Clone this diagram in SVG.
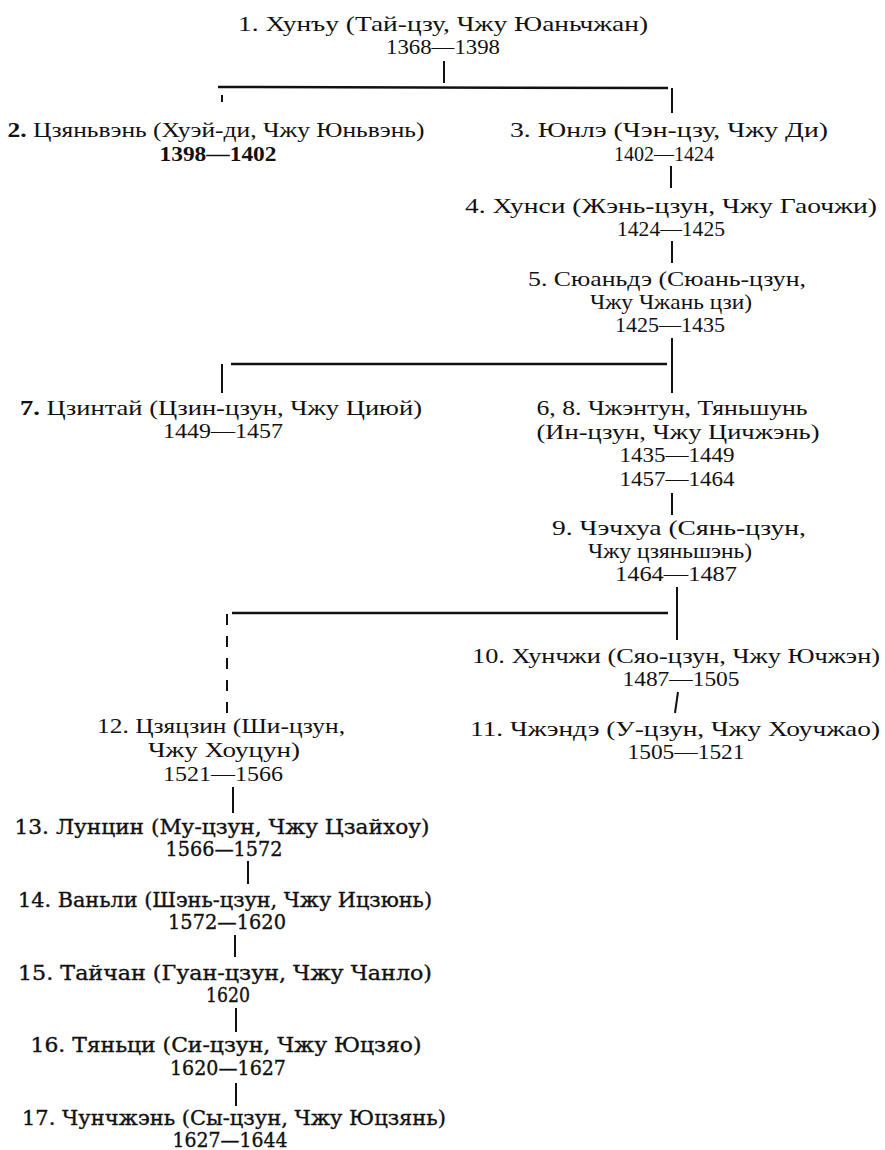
<svg xmlns="http://www.w3.org/2000/svg" width="885" height="1150" viewBox="0 0 885 1150">
  <style>
    text { fill: #111; text-anchor: middle; }
    .t { font-family: "Liberation Serif", "Times New Roman", serif; font-size: 22px; }
    .bd { font-weight: bold; }
    .w { font-family: "DejaVu Serif", "Liberation Serif", serif; font-size: 19.5px; stroke: #111; stroke-width: 0.35; }
    .ln { stroke: #111; stroke-width: 2; fill: none; }
    .hl { stroke: #111; stroke-width: 2.5; fill: none; }
    .dash { stroke: #111; stroke-width: 2; fill: none; stroke-dasharray: 11 11; }
  </style>
  <rect width="885" height="1150" fill="#fff"/>

  <!-- connectors -->
  <g id="connectors">
    <line class="ln" x1="444" y1="61" x2="444" y2="83"/>
    <line class="hl" x1="218" y1="87" x2="668" y2="88"/>
    <line class="ln" x1="222" y1="95" x2="222" y2="102" stroke-width="1"/>
    <line class="ln" x1="672" y1="88" x2="672" y2="113"/>
    <line class="ln" x1="671" y1="166" x2="671" y2="188"/>
    <line class="ln" x1="672" y1="241" x2="672" y2="263"/>
    <line class="ln" x1="672" y1="338" x2="672" y2="393"/>
    <line class="hl" x1="231" y1="364" x2="667" y2="364"/>
    <line class="ln" x1="222" y1="364" x2="222" y2="393"/>
    <line class="ln" x1="672" y1="493" x2="672" y2="515"/>
    <line class="ln" x1="677" y1="587" x2="677" y2="640"/>
    <line class="hl" x1="232" y1="613" x2="668" y2="613"/>
    <line class="dash" x1="227" y1="614" x2="227" y2="718"/>
    <line class="ln" x1="678" y1="692" x2="675" y2="713"/>
    <line class="ln" x1="233" y1="787" x2="233" y2="813" stroke-width="4"/>
    <line class="ln" x1="248" y1="861" x2="248" y2="884"/>
    <line class="ln" x1="235" y1="935" x2="235" y2="957"/>
    <line class="ln" x1="236" y1="1008" x2="236" y2="1032"/>
    <line class="ln" x1="236" y1="1083" x2="236" y2="1106"/>
  </g>

  <g id="n1">
    <text class="t" x="443" y="31" textLength="410" lengthAdjust="spacingAndGlyphs">1. Хунъу (Тай-цзу, Чжу Юаньчжан)</text>
    <text class="t" x="443" y="54" textLength="114" lengthAdjust="spacingAndGlyphs">1368—1398</text>
  </g>
  <g id="n2">
    <text class="t" x="216" y="137" textLength="417" lengthAdjust="spacingAndGlyphs"><tspan class="bd">2.</tspan> Цзяньвэнь (Хуэй-ди, Чжу Юньвэнь)</text>
    <text class="t bd" x="218" y="161" textLength="117" lengthAdjust="spacingAndGlyphs">1398—1402</text>
  </g>
  <g id="n3">
    <text class="t" x="669" y="137" textLength="318" lengthAdjust="spacingAndGlyphs">3. Юнлэ (Чэн-цзу, Чжу Ди)</text>
    <text class="t" x="664" y="161" textLength="100" lengthAdjust="spacingAndGlyphs">1402—1424</text>
  </g>
  <g id="n4">
    <text class="t" x="671" y="213" textLength="412" lengthAdjust="spacingAndGlyphs">4. Хунси (Жэнь-цзун, Чжу Гаочжи)</text>
    <text class="t" x="671" y="236" textLength="108" lengthAdjust="spacingAndGlyphs">1424—1425</text>
  </g>
  <g id="n5">
    <text class="t" x="667" y="286" textLength="278" lengthAdjust="spacingAndGlyphs">5. Сюаньдэ (Сюань-цзун,</text>
    <text class="t" x="671" y="309" textLength="162" lengthAdjust="spacingAndGlyphs">Чжу Чжань цзи)</text>
    <text class="t" x="670" y="332" textLength="110" lengthAdjust="spacingAndGlyphs">1425—1435</text>
  </g>
  <g id="n7">
    <text class="t" x="221" y="415" textLength="402" lengthAdjust="spacingAndGlyphs"><tspan class="bd">7.</tspan> Цзинтай (Цзин-цзун, Чжу Циюй)</text>
    <text class="t" x="223" y="438" textLength="120" lengthAdjust="spacingAndGlyphs">1449—1457</text>
  </g>
  <g id="n6-8">
    <text class="t" x="672" y="415" textLength="271" lengthAdjust="spacingAndGlyphs">6, 8. Чжэнтун, Тяньшунь</text>
    <text class="t" x="678" y="439" textLength="283" lengthAdjust="spacingAndGlyphs">(Ин-цзун, Чжу Цичжэнь)</text>
    <text class="t" x="677" y="462" textLength="115" lengthAdjust="spacingAndGlyphs">1435—1449</text>
    <text class="t" x="677" y="486" textLength="115" lengthAdjust="spacingAndGlyphs">1457—1464</text>
  </g>
  <g id="n9">
    <text class="t" x="679" y="535" textLength="254" lengthAdjust="spacingAndGlyphs">9. Чэчхуа (Сянь-цзун,</text>
    <text class="t" x="670" y="558" textLength="164" lengthAdjust="spacingAndGlyphs">Чжу цзяньшэнь)</text>
    <text class="t" x="676" y="581" textLength="122" lengthAdjust="spacingAndGlyphs">1464—1487</text>
  </g>
  <g id="n10">
    <text class="t" x="676" y="663" textLength="408" lengthAdjust="spacingAndGlyphs">10. Хунчжи (Сяо-цзун, Чжу Ючжэн)</text>
    <text class="t" x="681" y="686" textLength="117" lengthAdjust="spacingAndGlyphs">1487—1505</text>
  </g>
  <g id="n11">
    <text class="t" x="675" y="736" textLength="410" lengthAdjust="spacingAndGlyphs">11. Чжэндэ (У-цзун, Чжу Хоучжао)</text>
    <text class="t" x="686" y="759" textLength="117" lengthAdjust="spacingAndGlyphs">1505—1521</text>
  </g>
  <g id="n12">
    <text class="t" x="221" y="733" textLength="248" lengthAdjust="spacingAndGlyphs">12. Цзяцзин (Ши-цзун,</text>
    <text class="t" x="224" y="757" textLength="152" lengthAdjust="spacingAndGlyphs">Чжу Хоуцун)</text>
    <text class="t" x="223" y="781" textLength="120" lengthAdjust="spacingAndGlyphs">1521—1566</text>
  </g>
  <g id="n13">
    <text class="w" x="222" y="834" textLength="415" lengthAdjust="spacingAndGlyphs">13. Лунцин (Му-цзун, Чжу Цзайхоу)</text>
    <text class="w" x="224" y="856" textLength="117" lengthAdjust="spacingAndGlyphs">1566—1572</text>
  </g>
  <g id="n14">
    <text class="w" x="225" y="907" textLength="414" lengthAdjust="spacingAndGlyphs">14. Ваньли (Шэнь-цзун, Чжу Ицзюнь)</text>
    <text class="w" x="227" y="929" textLength="118" lengthAdjust="spacingAndGlyphs">1572—1620</text>
  </g>
  <g id="n15">
    <text class="w" x="225" y="980" textLength="414" lengthAdjust="spacingAndGlyphs">15. Тайчан (Гуан-цзун, Чжу Чанло)</text>
    <text class="w" x="228" y="1002" textLength="44" lengthAdjust="spacingAndGlyphs">1620</text>
  </g>
  <g id="n16">
    <text class="w" x="226" y="1052" textLength="391" lengthAdjust="spacingAndGlyphs">16. Тяньци (Си-цзун, Чжу Юцзяо)</text>
    <text class="w" x="228" y="1075" textLength="116" lengthAdjust="spacingAndGlyphs">1620—1627</text>
  </g>
  <g id="n17">
    <text class="w" x="234" y="1125" textLength="424" lengthAdjust="spacingAndGlyphs">17. Чунчжэнь (Сы-цзун, Чжу Юцзянь)</text>
    <text class="w" x="230" y="1147" textLength="115" lengthAdjust="spacingAndGlyphs">1627—1644</text>
  </g>
</svg>
